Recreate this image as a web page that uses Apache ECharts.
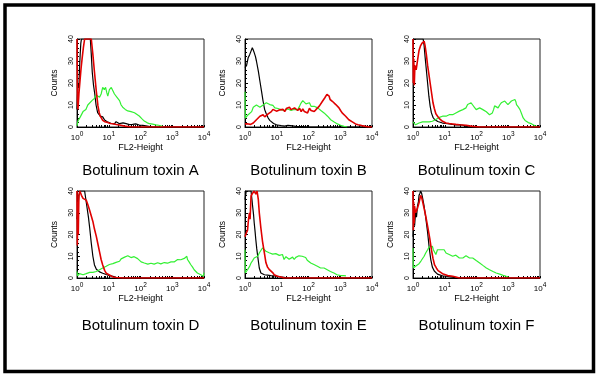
<!DOCTYPE html>
<html>
<head>
<meta charset="utf-8">
<script src="https://cdn.jsdelivr.net/npm/echarts@6/dist/echarts.min.js"></script>
<style>
  html, body { margin: 0; padding: 0; background: #fff; }
  #chart { width: 600px; height: 375px; }
</style>
</head>
<body>
<div id="chart"></div>
<script>
// x values are decades of FL2-Height (0 -> 10^0 ... 4 -> 10^4), y values are counts
const panelLabels = ['Botulinum toxin A', 'Botulinum toxin B', 'Botulinum toxin C',
                     'Botulinum toxin D', 'Botulinum toxin E', 'Botulinum toxin F'];
const xTickExps = [0, 1, 2, 3, 4];
const yTicks = [0, 10, 20, 30, 40];

const blackA = [[0,8],[0.03,20],[0.06,18],[0.08,27],[0.1,33],[0.12,38],[0.14,40],[0.42,40],[0.45,33],[0.48,25],[0.52,19],[0.56,15],[0.6,10],[0.65,6.5],[0.69,5.8],[0.73,5],[0.77,5.8],[0.81,4.6],[0.87,3.2],[0.92,3],[0.97,2.2],[1.02,2.4],[1.08,1.6],[1.13,2],[1.18,1.4],[1.23,2.4],[1.29,1.6],[1.34,1.5],[1.45,1.9],[1.55,1.5],[1.65,1.1],[1.75,1.2],[1.85,1.4],[1.96,0.9],[2.07,0.7],[2.17,0.5],[2.38,0],[4,0]];
const redA = [[0,40],[0.015,12],[0.03,8],[0.06,15],[0.1,22],[0.13,27],[0.16,31],[0.2,36],[0.24,40],[0.45,40],[0.5,33],[0.55,25],[0.61,16],[0.66,9.6],[0.7,6.5],[0.73,5],[0.77,4],[0.81,3],[0.88,2.4],[0.97,2],[1.05,1.6],[1.13,1.5],[1.24,1.1],[1.34,0.9],[1.5,0.4],[1.7,0],[4,0]];
const greenA = [[0,0.5],[0.03,2.7],[0.1,4.5],[0.19,7],[0.28,8],[0.34,10],[0.4,10],[0.47,12],[0.55,13],[0.6,14.5],[0.66,15],[0.71,13.5],[0.76,15],[0.81,18],[0.86,17],[0.9,18],[0.94,15.5],[0.97,14],[1.02,17],[1.08,18],[1.13,16.5],[1.18,15],[1.26,13.5],[1.34,12],[1.39,10],[1.44,9],[1.52,8],[1.6,7.3],[1.7,7],[1.81,6.5],[1.88,5.8],[1.96,5],[2.04,3.8],[2.12,2.7],[2.2,2],[2.28,1.5],[2.38,1.3],[2.49,1],[2.57,0.8],[2.64,0.5],[2.7,0.3]];

const blackB = [[0,27],[0.05,28],[0.1,31.5],[0.15,33],[0.19,34.5],[0.23,36],[0.26,35],[0.29,33.8],[0.33,32],[0.36,30],[0.42,25.4],[0.47,20.8],[0.52,16.3],[0.57,11.7],[0.62,7.9],[0.67,6],[0.73,4.1],[0.78,3],[0.83,2.3],[0.9,1.6],[0.99,1],[1.07,0.8],[1.14,0.6],[1.25,0.4],[1.3,1],[1.35,0.8],[1.4,1],[1.5,0.5],[1.6,0.3],[1.8,0.2],[2,0],[4,0]];
const redB = [[0,1.4],[0.1,1.4],[0.18,1.2],[0.26,1.8],[0.31,2.5],[0.36,3.3],[0.42,4],[0.47,4.9],[0.52,5.2],[0.57,5.6],[0.62,4.6],[0.68,5],[0.73,6],[0.78,6.4],[0.83,7],[0.88,8],[0.94,7.5],[0.99,7.2],[1.04,7],[1.1,7.8],[1.15,7],[1.2,8],[1.25,7],[1.3,8.4],[1.35,8],[1.4,9],[1.45,7.9],[1.5,8.5],[1.56,8.7],[1.61,8],[1.66,7.5],[1.72,8.5],[1.77,7],[1.82,8.2],[1.87,7],[1.92,7.4],[1.97,6.4],[2.03,8.5],[2.08,7.5],[2.13,8],[2.18,7],[2.24,8],[2.29,8.7],[2.34,9.5],[2.39,10.2],[2.44,11.7],[2.48,12.5],[2.51,13.2],[2.55,14],[2.58,14.8],[2.62,15.5],[2.65,14],[2.68,12.5],[2.72,12.8],[2.75,11.7],[2.8,11],[2.86,10.2],[2.91,9.5],[2.96,8.7],[3.01,7.5],[3.06,6.4],[3.11,5.8],[3.17,4.9],[3.22,4.2],[3.27,3.3],[3.33,2.8],[3.38,2.3],[3.43,1.8],[3.48,1.4],[3.56,1],[3.64,0.8],[3.72,0.5],[3.79,0.3],[3.9,0],[4,0]];
const greenB = [[0,16],[0.01,4],[0.06,4.5],[0.1,5.6],[0.16,6.5],[0.21,7],[0.26,9],[0.31,8.7],[0.36,10],[0.42,9.9],[0.47,9],[0.52,9],[0.57,10],[0.62,10],[0.67,11],[0.73,11],[0.78,10.2],[0.83,9.4],[0.88,9.8],[0.94,8.7],[0.99,9],[1.04,8.4],[1.1,8.8],[1.15,7.8],[1.25,7.5],[1.35,8.2],[1.45,7.5],[1.55,8],[1.66,7.9],[1.72,9.5],[1.77,11],[1.82,12],[1.87,11.7],[1.92,10.5],[1.97,10.2],[2.03,11],[2.08,9.4],[2.13,9.8],[2.18,9.4],[2.24,9],[2.29,8.7],[2.34,8],[2.39,7.5],[2.44,7],[2.49,6.4],[2.55,5.5],[2.6,4.9],[2.65,4],[2.7,3.3],[2.76,2.8],[2.81,2.3],[2.86,1.8],[2.91,1.4],[2.96,1],[3.01,0.8],[3.12,0.3],[3.22,0]];

const blackC = [[0,40],[0.32,40],[0.35,37],[0.38,32],[0.42,26],[0.46,20],[0.5,14],[0.54,9.5],[0.58,6.4],[0.63,4.4],[0.68,3.4],[0.73,2.9],[0.78,2.5],[0.83,2.3],[0.93,1.8],[1.03,1.6],[1.14,1.4],[1.24,1.2],[1.35,1],[1.46,1.1],[1.57,0.8],[1.67,0.3],[1.78,0],[4,0]];
const redC = [[0,40],[0.01,20],[0.025,31],[0.04,19],[0.06,28],[0.1,26],[0.14,30],[0.19,34.8],[0.24,37],[0.28,38],[0.32,38.5],[0.35,39],[0.38,37],[0.42,33],[0.46,28],[0.5,24],[0.54,20],[0.59,15],[0.63,11],[0.67,8.5],[0.72,6],[0.78,4.8],[0.83,3.8],[0.88,3.2],[0.93,2.6],[1.04,1.8],[1.14,1.6],[1.25,1.4],[1.35,1.2],[1.46,1],[1.57,0.9],[1.67,0.8],[1.78,0.5],[1.88,0.3],[2.1,0],[4,0]];
const greenC = [[0,2.3],[0.04,1.5],[0.08,1],[0.14,1.5],[0.19,1.8],[0.25,2.5],[0.3,2.3],[0.35,2],[0.4,2.3],[0.46,2.6],[0.51,2.3],[0.56,2.8],[0.61,2.6],[0.67,3],[0.72,3.4],[0.77,4],[0.83,4.4],[0.88,4.6],[0.93,4.9],[0.98,5.5],[1.04,4.9],[1.09,5],[1.14,5.6],[1.2,5.2],[1.25,5.6],[1.3,6.4],[1.35,6.4],[1.41,6.8],[1.46,7.2],[1.51,7],[1.57,7.9],[1.62,8],[1.67,8.7],[1.72,10.2],[1.77,9.5],[1.83,11],[1.88,10],[1.93,9],[1.99,7.9],[2.04,8.2],[2.1,8.7],[2.15,8],[2.2,7.9],[2.25,7.2],[2.31,6.9],[2.36,6],[2.41,5.6],[2.46,6],[2.5,6.4],[2.54,8],[2.57,9.6],[2.62,9.2],[2.68,8.7],[2.73,10],[2.78,11],[2.83,10.5],[2.89,11.8],[2.94,11.2],[2.99,10.2],[3.04,11],[3.1,11.8],[3.15,12],[3.21,12.5],[3.24,11.5],[3.26,10.2],[3.32,9],[3.37,7.9],[3.42,6],[3.47,4.1],[3.53,3],[3.58,2.3],[3.63,2],[3.68,1.8],[3.74,1.4],[3.79,1],[3.84,0.6],[3.89,0.3]];

const blackD = [[0,27],[0.03,33],[0.06,38],[0.1,40],[0.24,40],[0.27,37],[0.31,33],[0.36,28],[0.4,23],[0.45,16],[0.5,10],[0.55,6],[0.61,4],[0.66,3.2],[0.71,2.8],[0.76,2.5],[0.81,2.2],[0.87,2],[0.92,1.6],[0.97,1.4],[1.02,1.1],[1.08,0.9],[1.13,0.8],[1.23,0.3],[1.34,0],[4,0]];
const redD = [[0,40],[0.01,15],[0.025,35],[0.04,20],[0.06,38],[0.09,40],[0.14,38],[0.19,36.6],[0.24,37],[0.29,35.8],[0.34,33.8],[0.4,31],[0.45,28.5],[0.5,26],[0.55,22.5],[0.61,19],[0.66,15.5],[0.71,12],[0.76,8.5],[0.81,6],[0.87,3.5],[0.92,2.2],[0.97,1.5],[1.02,1.4],[1.08,0.9],[1.13,0.5],[1.23,0.2],[1.44,0],[4,0]];
const greenD = [[0,3],[0.02,1],[0.08,2],[0.14,1.2],[0.19,1.5],[0.24,2.2],[0.29,2],[0.34,2.4],[0.4,2.6],[0.45,2.2],[0.5,2.6],[0.55,3.2],[0.61,3],[0.66,3.4],[0.71,3.8],[0.76,4],[0.81,4.6],[0.87,5.2],[0.92,5.4],[0.97,5.8],[1.02,6.2],[1.08,6.8],[1.13,6.6],[1.18,7.4],[1.23,7.2],[1.29,8],[1.34,7.7],[1.39,8.8],[1.44,8.5],[1.5,9.6],[1.55,9.2],[1.6,10.2],[1.65,9.7],[1.7,9.4],[1.75,8.8],[1.8,9.8],[1.86,9.5],[1.91,8.9],[1.96,8.5],[2.02,7.4],[2.07,6.6],[2.12,6.9],[2.17,6.6],[2.23,6.4],[2.28,6.2],[2.33,6.8],[2.38,6.9],[2.43,6.4],[2.49,6.6],[2.54,7],[2.59,6.9],[2.64,6.5],[2.69,6.6],[2.75,7.1],[2.8,7.2],[2.85,6.8],[2.9,6.9],[2.96,7.4],[3.01,7.7],[3.06,7.4],[3.11,8.2],[3.17,8.5],[3.22,8.8],[3.27,8.4],[3.32,9.2],[3.38,9],[3.43,9.7],[3.46,10],[3.48,8.5],[3.53,7.4],[3.58,6.2],[3.64,5],[3.69,3.8],[3.74,3],[3.79,2.3],[3.85,1.8],[3.9,1.5],[3.95,1],[3.98,0.8],[4,2.5]];

const blackE = [[0,36],[0.04,40],[0.19,40],[0.22,36],[0.24,33],[0.27,29],[0.29,25.4],[0.32,21],[0.34,17.7],[0.37,13.5],[0.4,10],[0.45,4.6],[0.5,2.3],[0.55,1.8],[0.61,1.5],[0.71,1.3],[0.81,1.1],[0.92,1],[1.02,0.8],[1.13,0.5],[1.23,0.3],[1.34,0],[4,0]];
const redE = [[0,19],[0.03,19],[0.05,21],[0.08,22],[0.11,27],[0.14,30],[0.16,27],[0.19,37.7],[0.24,39],[0.29,40],[0.34,38.5],[0.38,40],[0.42,36],[0.45,30],[0.5,23],[0.55,17],[0.61,11.5],[0.66,7],[0.71,5],[0.76,4],[0.81,3.8],[0.87,2.5],[0.92,1.5],[0.97,1],[1.02,0.8],[1.13,0.5],[1.23,0],[4,0]];
const greenE = [[0,13],[0.01,2.3],[0.08,3.8],[0.14,5.2],[0.19,6.9],[0.24,8],[0.29,9.2],[0.34,9.5],[0.4,10],[0.45,11.5],[0.5,12.3],[0.55,13.8],[0.61,13],[0.66,12.3],[0.71,11.5],[0.76,11.6],[0.81,11.5],[0.87,11],[0.92,10.8],[0.97,11.2],[1.02,10.8],[1.08,10.4],[1.13,10],[1.18,10.8],[1.23,8.5],[1.29,9.8],[1.34,9.2],[1.39,8.6],[1.44,9.2],[1.5,9.6],[1.55,8.5],[1.6,9.5],[1.65,9.2],[1.7,10.2],[1.75,9.7],[1.8,10],[1.86,9.2],[1.91,9.4],[1.96,8.2],[2.02,7.6],[2.07,6.9],[2.12,6.6],[2.17,6.2],[2.23,5.9],[2.28,5.4],[2.33,5],[2.38,4.6],[2.44,4.8],[2.49,4.6],[2.54,4.2],[2.59,3.8],[2.64,3.4],[2.69,3],[2.75,2.6],[2.8,2.3],[2.85,1.9],[2.9,1.5],[2.96,1.3],[3.01,1.1],[3.06,1.1],[3.11,1.1],[3.18,1]];

const blackF = [[0,19],[0.03,27],[0.05,24],[0.08,30],[0.11,28],[0.14,33],[0.17,35],[0.19,38],[0.22,39],[0.24,40],[0.27,39],[0.3,37],[0.35,33],[0.4,28],[0.46,21],[0.51,14],[0.56,8.5],[0.61,5],[0.67,3.2],[0.72,2.3],[0.77,1.8],[0.83,1.3],[0.93,1],[1.04,0.8],[1.14,0.6],[1.25,0.4],[1.35,0],[4,0]];
const redF = [[0,40],[0.01,22],[0.02,35],[0.035,25],[0.05,33],[0.08,30],[0.11,31],[0.14,32],[0.19,34.6],[0.24,38],[0.28,36.6],[0.32,34],[0.38,30],[0.42,27],[0.47,23],[0.53,18],[0.58,13],[0.63,9],[0.68,6],[0.74,4.5],[0.79,3.4],[0.84,2.6],[0.93,2],[0.98,1.5],[1.09,1.1],[1.25,0.8],[1.35,0.5],[1.46,0],[4,0]];
const greenF = [[0,13.8],[0.01,4.6],[0.08,5.4],[0.14,6],[0.19,6.6],[0.25,7.8],[0.3,8.5],[0.35,10],[0.4,11.5],[0.46,13],[0.51,14.3],[0.56,13.8],[0.61,14.6],[0.64,13],[0.67,12.3],[0.72,10.8],[0.77,13],[0.83,13.8],[0.88,13],[0.93,12.3],[0.98,13],[1.04,11.5],[1.09,12],[1.14,10.8],[1.2,11.4],[1.25,10],[1.3,10.8],[1.35,10.5],[1.41,9.6],[1.46,9.2],[1.51,9.8],[1.57,9.2],[1.62,10],[1.67,10.2],[1.72,9.6],[1.78,9.2],[1.83,9.6],[1.88,9.2],[1.93,8.6],[1.99,8],[2.04,7.4],[2.1,6.9],[2.15,6.2],[2.2,5.8],[2.25,5.2],[2.31,4.6],[2.36,4.2],[2.41,3.8],[2.46,3.4],[2.52,3],[2.57,2.6],[2.62,2.3],[2.68,2],[2.73,1.8],[2.78,1.5],[2.84,1.2],[2.89,1],[2.94,0.8],[3.0,0.6]];

// black, green, red per panel (red drawn last, on top)
const histograms = [
  [blackA, greenA, redA], [blackB, greenB, redB], [blackC, greenC, redC],
  [blackD, greenD, redD], [blackE, greenE, redE], [blackF, greenF, redF]
];

const FONT = '"Liberation Sans", Arial, sans-serif';
const lineColors = ['#000000', '#33f033', '#e00000'];
const lineWidths = [1.2, 1.2, 1.6];
const colLeft = [77, 245, 413];
const rowTop = [39, 191];
const rowHeight = [88, 87];
const plotWidth = 127;
const captionTop = [163, 318];

// log-decade tick marks (1..9 in each decade)
const logTicks = [];
for (let d = 0; d < 4; d++) for (let k = 1; k <= 9; k++) logTicks.push(d + Math.log10(k));
logTicks.push(4);

const chart = echarts.init(document.getElementById('chart'), null, { renderer: 'canvas' });

const grids = [], xAxes = [], yAxes = [], series = [], graphics = [];

panelLabels.forEach((label, i) => {
  const col = i % 3, row = Math.floor(i / 3);
  grids.push({
    left: colLeft[col], top: rowTop[row], width: plotWidth, height: rowHeight[row],
    show: true, borderColor: '#222', borderWidth: 1, backgroundColor: 'transparent'
  });
  xAxes.push({
    gridIndex: i, type: 'value', min: xTickExps[0], max: xTickExps[xTickExps.length - 1], interval: 1,
    name: 'FL2-Height', nameLocation: 'middle', nameGap: 16,
    nameTextStyle: { fontSize: 9, fontFamily: FONT, color: '#000' },
    axisLine: { show: true, onZero: false, lineStyle: { color: '#000', width: 1 } },
    axisTick: { show: true, inside: true, length: 2, customValues: logTicks, lineStyle: { color: '#000' } },
    axisLabel: {
      margin: 4, showMinLabel: true, showMaxLabel: true, hideOverlap: false,
      formatter: v => '{b|10}{s|' + v + '}',
      rich: {
        b: { fontSize: 8, fontFamily: FONT, color: '#000', verticalAlign: 'bottom' },
        s: { fontSize: 6.5, fontFamily: FONT, color: '#000', verticalAlign: 'bottom', padding: [0, 0, 4, 0] }
      }
    },
    splitLine: { show: false }
  });
  yAxes.push({
    gridIndex: i, type: 'value', min: yTicks[0], max: yTicks[yTicks.length - 1], interval: 10,
    name: 'Counts', nameLocation: 'middle', nameGap: 18,
    nameTextStyle: { fontSize: 8.5, fontFamily: FONT, color: '#000' },
    axisLine: { show: true, lineStyle: { color: '#000', width: 1 } },
    axisTick: { show: true, inside: true, length: 3, lineStyle: { color: '#000' } },
    minorTick: { show: true, splitNumber: 5, length: 2, lineStyle: { color: '#000' } },
    axisLabel: { rotate: 90, fontSize: 7, fontFamily: FONT, color: '#000', margin: 2 },
    splitLine: { show: false }
  });
  histograms[i].forEach((data, k) => {
    series.push({
      type: 'line', xAxisIndex: i, yAxisIndex: i, data: data,
      symbol: 'none', clip: true, silent: true,
      lineStyle: { color: lineColors[k], width: lineWidths[k] }
    });
  });
  graphics.push({
    type: 'text', x: colLeft[col] + plotWidth / 2, y: captionTop[row],
    style: { text: label, fontSize: 15, fontFamily: FONT, fill: '#000', textAlign: 'center', textVerticalAlign: 'top' }
  });
});

// outer frame
graphics.push({
  type: 'rect', shape: { x: 5, y: 5, width: 588.5, height: 366.5 },
  style: { fill: 'none', stroke: '#000', lineWidth: 3.5 }, z: 10
});

chart.setOption({
  animation: false,
  backgroundColor: '#fff',
  grid: grids,
  xAxis: xAxes,
  yAxis: yAxes,
  series: series,
  graphic: graphics
});
</script>
</body>
</html>
